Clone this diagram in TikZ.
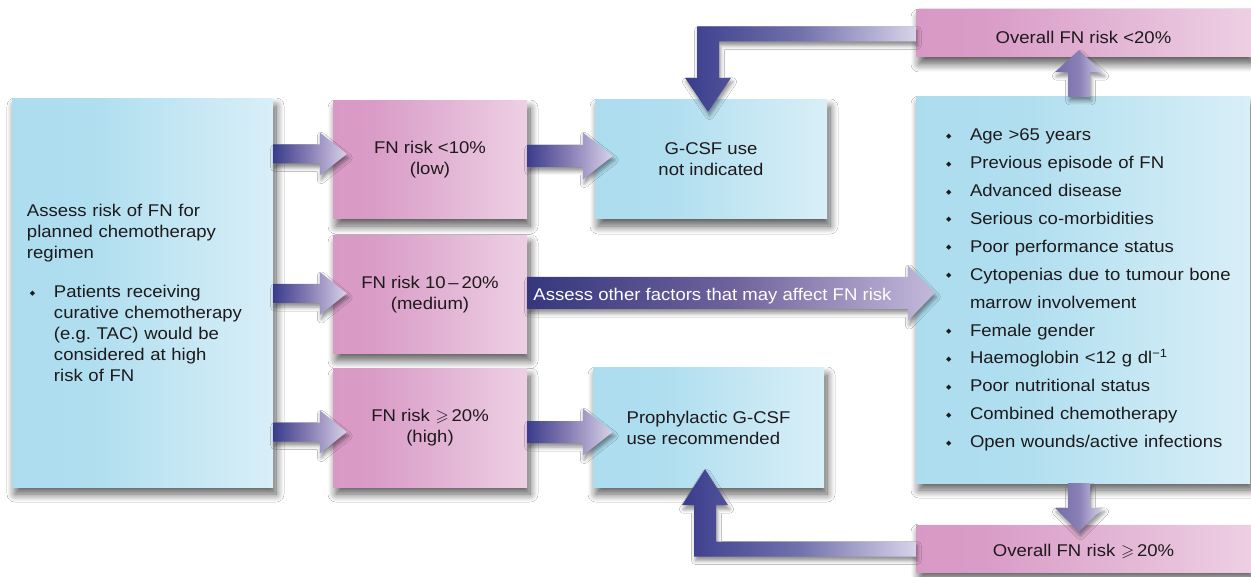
\documentclass[tikz,border=0pt]{standalone}
\usepackage{fontspec}
\usepackage{amssymb}
\setmainfont[FakeStretch=1.09]{Liberation Sans}
\newfontfamily\dejavu{DejaVu Sans}
\usetikzlibrary{calc,shadows.blur}

\definecolor{bluel}{HTML}{A8DBEE}
\definecolor{bluer}{HTML}{F6FBFD}
\definecolor{pinkl}{HTML}{D693C2}
\definecolor{pinkr}{HTML}{F9F0F6}
\definecolor{txt}{HTML}{1E1A1B}
\definecolor{arrD}{HTML}{3A3D8C}
\definecolor{arrM}{HTML}{8A80B6}
\definecolor{arrL}{HTML}{D8D2E9}
\definecolor{medD}{HTML}{35377E}
\definecolor{medM}{HTML}{6E629B}
\definecolor{medL}{HTML}{C3B9DA}

\pgfdeclarehorizontalshading{blueshade}{100bp}{color(0bp)=(bluel); color(40bp)=(bluel!92!white); color(100bp)=(bluer)}
\pgfdeclarehorizontalshading{pinkshade}{100bp}{color(0bp)=(pinkl); color(35bp)=(pinkl!92!white); color(100bp)=(pinkr)}

\newcommand{\dia}[2]{\makebox[#2][l]{\hspace{#1}\raisebox{2.5pt}{\dejavu\fontsize{7}{7}\selectfont ◆}}}

% horizontal fat arrow: style, start, tip, shaft half, head half, head length
\newcommand{\harr}[6]{%
  \path[#1] let \p1=#2, \p2=#3 in
    (\x1,{\y1+#4pt}) -- ({\x2-#6pt},{\y1+#4pt}) -- ({\x2-#6pt},{\y1+#5pt}) -- (\x2,\y1)
    -- ({\x2-#6pt},{\y1-#5pt}) -- ({\x2-#6pt},{\y1-#4pt}) -- (\x1,{\y1-#4pt}) -- cycle;}
% vertical fat arrow: style, start, tip, shaft half, head half, signed head length
\newcommand{\varr}[6]{%
  \path[#1] let \p1=#2, \p2=#3 in
    ({\x1-#4pt},\y1) -- ({\x1-#4pt},{\y2-(#6pt)}) -- ({\x1-#5pt},{\y2-(#6pt)}) -- (\x1,\y2)
    -- ({\x1+#5pt},{\y2-(#6pt)}) -- ({\x1+#4pt},{\y2-(#6pt)}) -- ({\x1+#4pt},\y1) -- cycle;}

\begin{document}
\begin{tikzpicture}[x=1pt,y=-1pt,
  box/.style={inner sep=0pt, text=txt, font=\fontsize{17}{21}\selectfont,
     blur shadow={shadow xshift=3pt,shadow yshift=-7pt,shadow blur radius=8pt,shadow opacity=65,shadow blur steps=12}},
  bluebox/.style={box, shading=blueshade},
  pinkbox/.style={box, shading=pinkshade},
  fat/.style={left color=arrD, right color=arrL, middle color=arrM,
     blur shadow={shadow xshift=1.5pt,shadow yshift=-4pt,shadow blur radius=4pt,shadow opacity=45}},
  medfat/.style={fat, left color=medD, right color=medL, middle color=medM},
  loopfat/.style={fat, left color=arrD, right color=arrL, middle color=arrD!65!arrL},
  vfat/.style={fat, left color=arrM!70!arrD, right color=arrL, middle color=arrM},
]
\fill[white] (0,0) rectangle (1251,577);
\useasboundingbox (0,0) rectangle (1251,577);

% boxes
\node[bluebox, minimum width=261pt, minimum height=388pt, text width=231pt, inner xsep=15pt, align=left] (assess) at (142.5,293)
 {Assess risk of FN for\\
  planned chemotherapy\\
  regimen\\[18pt]
  \dia{3pt}{27pt}Patients receiving\\
  \hspace*{27pt}curative chemotherapy\\
  \hspace*{27pt}(e.g.\ TAC) would be\\
  \hspace*{27pt}considered at high\\
  \hspace*{27pt}risk of FN};

\node[pinkbox, minimum width=194pt, minimum height=118pt, align=center] (p1) at (430,160) {FN risk <10\%\\(low)};
\node[pinkbox, minimum width=194pt, minimum height=118pt, align=center] (p2) at (430,294.5) {FN risk 10\,–\,20\%\\(medium)};
\node[pinkbox, minimum width=194pt, minimum height=118pt, align=center] (p3) at (430,428) {FN risk\,\,$\geqslant$\,20\%\\(high)};

\node[bluebox, minimum width=232pt, minimum height=119pt, align=center] (gcsf) at (711,159.5) {G-CSF use\\not indicated};
\node[bluebox, minimum width=231pt, minimum height=119pt, align=left] (proph) at (708.5,427.5) {Prophylactic G-CSF\\use recommended};

\node[bluebox, minimum width=334pt, minimum height=386pt, text width=292pt, inner xsep=21pt, align=left,
      font=\fontsize{17}{27.9}\selectfont] (rbox) at (1083,290)
 {\dia{9pt}{33pt}Age >65 years\\
  \dia{9pt}{33pt}Previous episode of FN\\
  \dia{9pt}{33pt}Advanced disease\\
  \dia{9pt}{33pt}Serious co-morbidities\\
  \dia{9pt}{33pt}Poor performance status\\
  \mbox{\dia{9pt}{33pt}Cytopenias due to tumour bone}\\
  \hspace*{33pt}marrow involvement\\
  \dia{9pt}{33pt}Female gender\\
  \dia{9pt}{33pt}Haemoglobin <12 g dl\textsuperscript{−1}\\
  \dia{9pt}{33pt}Poor nutritional status\\
  \dia{9pt}{33pt}Combined chemotherapy\\
  \mbox{\dia{9pt}{33pt}Open wounds/active infections}};

\node[pinkbox, minimum width=335pt, minimum height=47pt] (olow) at (1083.5,33.5) {\raisebox{-4pt}[\height][\depth]{Overall FN risk <20\%}};
\node[pinkbox, minimum width=335pt, minimum height=47pt] (ohigh) at (1083.5,548.5) {\raisebox{-3pt}[\height][\depth]{Overall FN risk\,\,$\geqslant$\,20\%}};

% arrows from the first box
\harr{fat}{($(assess.east |- p1.west)+(0,-6)$)}{($(p1.west)+(14,-6)$)}{9.5}{21.5}{27}
\harr{fat}{($(assess.east |- p2.west)+(0,-1)$)}{($(p2.west)+(14,-1)$)}{9.5}{21.5}{27}
\harr{fat}{($(assess.east |- p3.west)+(0,4)$)}{($(p3.west)+(14,4)$)}{9.5}{21.5}{27}

% arrows from risk boxes
\harr{fat}{($(p1.east)+(0,-4)$)}{($(gcsf.west |- p1.east)+(18,-4)$)}{11}{23.5}{30}
\harr{fat}{($(p3.east)+(0,4)$)}{($(proph.west |- p3.east)+(20,4)$)}{11}{23.5}{30}
\harr{medfat}{($(p2.east)+(0,-1.5)$)}{($(rbox.west |- p2.east)+(19,-1.5)$)}{16}{28}{27}
\node[anchor=west, inner sep=0pt, text=white, font=\fontsize{17}{21}\selectfont] (medtxt) at ($(p2.east)+(6,2)$) {Assess other factors that may affect FN risk};

% arrows out of the factor box
\varr{vfat}{($(rbox.north)+(-4,0)$)}{($(olow.south)+(-4,-7)$)}{11}{24}{22}
\varr{vfat}{($(rbox.south)+(-4,0)$)}{($(ohigh.north)+(-4,7)$)}{11}{24}{-24}

% loop arrows
\path[loopfat] let \p1=(olow.west), \p2=($(gcsf.north)+(-3,12)$) in
  (\x1,{\y1+7pt}) -- ({\x2-11pt},{\y1+7pt}) -- ({\x2-11pt},{\y2+34pt}) -- ({\x2-23pt},{\y2+34pt}) -- (\x2,\y2)
  -- ({\x2+23pt},{\y2+34pt}) -- ({\x2+11pt},{\y2+34pt}) -- ({\x2+11pt},{\y1-8pt}) -- (\x1,{\y1-8pt}) -- cycle;
\path[loopfat] let \p1=(ohigh.west), \p2=($(proph.south)+(-3.5,-18)$) in
  (\x1,{\y1+7pt}) -- ({\x2+11pt},{\y1+7pt}) -- ({\x2+11pt},{\y2-36pt}) -- ({\x2+23pt},{\y2-36pt}) -- (\x2,\y2)
  -- ({\x2-23pt},{\y2-36pt}) -- ({\x2-11pt},{\y2-36pt}) -- ({\x2-11pt},{\y1-8pt}) -- (\x1,{\y1-8pt}) -- cycle;
\end{tikzpicture}
\end{document}
